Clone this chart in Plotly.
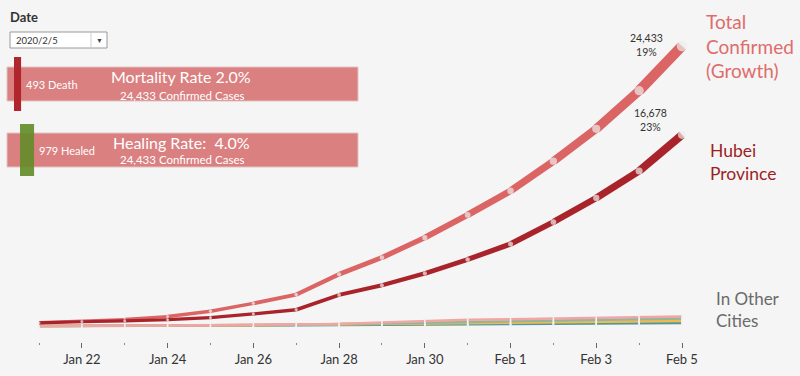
import plotly.graph_objects as go
import pandas as pd

# ---- data ----
dates = pd.date_range("2020-01-21", "2020-02-05", freq="D")
total_confirmed = [291, 440, 571, 830, 1287, 1975, 2744, 4515, 5974, 7711, 9692, 11791, 14380, 17205, 20530, 24433]
hubei = [270, 375, 444, 549, 729, 1052, 1423, 2714, 3554, 4586, 5806, 7153, 9074, 11177, 13522, 16678]
other_names = ["Zhejiang", "Guangdong", "Henan", "Hunan", "Anhui"]
other_colors = ["#f2a5a5", "#8fb89a", "#f0b07a", "#f2c12e", "#4f97a3"]
other_values = [
    [5, 10, 27, 43, 62, 104, 128, 173, 296, 428, 538, 599, 661, 724, 780, 830],
    [2, 8, 20, 33, 50, 78, 106, 150, 210, 280, 350, 420, 480, 540, 600, 650],
    [1, 5, 9, 30, 60, 90, 120, 160, 210, 260, 310, 360, 410, 460, 510, 560],
    [0, 4, 9, 24, 43, 69, 100, 143, 190, 230, 270, 310, 345, 380, 410, 430],
    [0, 1, 6, 15, 24, 39, 60, 80, 105, 130, 160, 185, 205, 225, 245, 260],
]
deaths = 493
healed = 979
date_label = "2020/2/5"

BG = "#f5f5f5"
TOTAL_C = "#db6565"
HUBEI_C = "#a9242a"
W, H = 800, 376
MB = 34
PH = H - MB


def px(x):
    return x / W


def py(y):
    return 1 - y / PH


fig = go.Figure()


def width_for(v):
    return 3 + v / max(total_confirmed) * 8


def add_growing_line(vals, color, name):
    for i in range(len(vals) - 1):
        w = width_for((vals[i] + vals[i + 1]) / 2)
        fig.add_trace(go.Scatter(x=dates[i:i + 2], y=vals[i:i + 2], mode="lines",
                                 line=dict(color=color, width=w), hoverinfo="skip",
                                 showlegend=False, name=name))
    fig.add_trace(go.Scatter(x=dates, y=vals, mode="markers",
                             marker=dict(color="#ececec", size=[width_for(v) * 0.95 for v in vals],
                                         line=dict(width=0)),
                             hoverinfo="skip", showlegend=False, cliponaxis=False))


for name, col, vals in zip(other_names[::-1], other_colors[::-1], other_values[::-1]):
    fig.add_trace(go.Scatter(x=dates, y=vals, mode="lines+markers", name=name,
                             line=dict(color=col, width=2.5),
                             marker=dict(symbol="line-ns", size=5, line=dict(color="#f2f2f2", width=1.5)),
                             hoverinfo="skip", showlegend=False))

add_growing_line(total_confirmed, TOTAL_C, "Total")
add_growing_line(hubei, HUBEI_C, "Hubei")

font = "Lato, 'Open Sans', sans-serif"


def note(x, y, text, size, color, xanchor="center", align="center"):
    fig.add_annotation(x=px(x), y=py(y), xref="paper", yref="paper", xanchor=xanchor,
                       yanchor="middle", text=text, showarrow=False, align=align,
                       font=dict(size=size, color=color, family=font))


def pct(vals):
    return f"{round((vals[-1] / vals[-2] - 1) * 100):.0f}%"


# value annotations
note(646, 45, f"{total_confirmed[-1]:,}<br>{pct(total_confirmed)}", 10.5, "#333")
note(650, 120, f"{hubei[-1]:,}<br>{pct(hubei)}", 10.5, "#333")

# series labels
note(704, 46, "Total<br>Confirmed<br>(Growth)", 19, "#e06c6c", "left", "left")
note(708, 162, "Hubei<br>Province", 17.5, "#9b1f24", "left", "left")
note(714, 309, "In Other<br>Cities", 17, "#6a6a6a", "left", "left")

# Date selector
note(8, 17, "<b>Date</b>", 13, "#333", "left", "left")
fig.add_shape(type="rect", xref="paper", yref="paper", x0=px(10), x1=px(107), y0=py(32), y1=py(48),
              fillcolor="white", line=dict(color="#9a9a9a", width=1))
fig.add_shape(type="line", xref="paper", yref="paper", x0=px(91), x1=px(91), y0=py(33), y1=py(47),
              line=dict(color="#cfcfcf", width=1))
note(14, 40, date_label, 9.5, "#333", "left", "left")
note(99, 40, "▼", 7, "#444")

# rate bars
BAR_X0, BAR_X1 = 7, 358
confirmed = total_confirmed[-1]
bar_fill = "rgba(214,112,112,0.88)"
for (y0, y1) in [(67, 101), (133, 167)]:
    fig.add_shape(type="rect", xref="paper", yref="paper", x0=px(BAR_X0), x1=px(BAR_X1),
                  y0=py(y0), y1=py(y1), fillcolor=bar_fill, line=dict(color="#e3c3c3", width=1))

dw = deaths / confirmed * (BAR_X1 - BAR_X0)
fig.add_shape(type="rect", xref="paper", yref="paper", x0=px(14), x1=px(14 + dw),
              y0=py(57), y1=py(111), fillcolor="#b0262c", line=dict(width=0))
hw = healed / confirmed * (BAR_X1 - BAR_X0)
fig.add_shape(type="rect", xref="paper", yref="paper", x0=px(20), x1=px(20 + hw),
              y0=py(124), y1=py(176), fillcolor="rgba(98,140,40,0.9)", line=dict(width=0))

note(24, 84, f"{deaths} Death", 11, "white", "left", "left")
note(181, 77, f"Mortality Rate {deaths / confirmed * 100:.1f}%", 16, "white")
note(182, 95, f"{confirmed:,} Confirmed Cases", 11.5, "white")
note(37, 150, f"{healed} Healed", 11, "white", "left", "left")
note(181, 142, f"Healing Rate:  {healed / confirmed * 100:.1f}%", 16, "white")
note(182, 159, f"{confirmed:,} Confirmed Cases", 11.5, "white")

# axes
day_px = (682 - 39) / 15
x0 = dates[0] - pd.Timedelta(days=39 / day_px)
x1 = dates[-1] + pd.Timedelta(days=(W - 682) / day_px)
scale = (326 - 46) / total_confirmed[-1]
y_lo = -(PH - 326) / scale
y_hi = total_confirmed[-1] + 46 / scale

major_ticks = list(dates[1::2])
minor_ticks = list(dates[0::2])

fig.update_xaxes(range=[x0, x1], showgrid=False, zeroline=False, showline=False,
                 tickmode="array", tickvals=major_ticks, tickformat="%b %-d",
                 ticks="outside", ticklen=5, tickcolor="#666", tickwidth=1,
                 tickfont=dict(size=13, color="#333", family=font),
                 minor=dict(tickmode="array", tickvals=minor_ticks, ticks="outside", ticklen=2,
                            tickcolor="#888", showgrid=False))
fig.update_yaxes(range=[y_lo, y_hi], visible=False)

fig.update_layout(width=W, height=H, margin=dict(l=0, r=0, t=0, b=MB),
                  paper_bgcolor=BG, plot_bgcolor=BG, showlegend=False)

fig.write_html("out.html", config={"displayModeBar": False},
               post_script="document.body.style.margin='0px';")
